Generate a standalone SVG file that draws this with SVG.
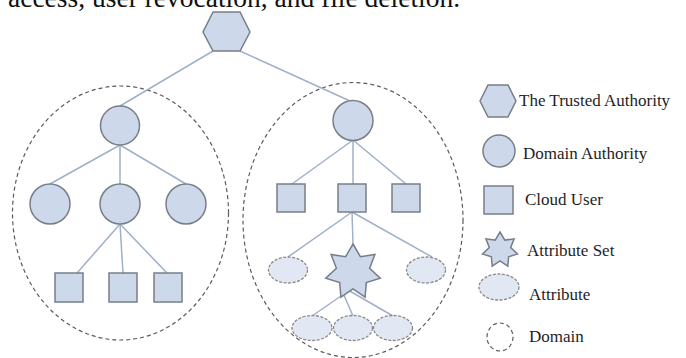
<svg xmlns="http://www.w3.org/2000/svg" width="686" height="358" viewBox="0 0 686 358">
<style>
.node{fill:#cdd8ea;stroke:#787e88;stroke-width:1.5}
.attr{fill:#e2e8f3;stroke:#8a8a8a;stroke-width:1.3;stroke-dasharray:3 1.5}
.dom{fill:none;stroke:#5c5c5c;stroke-width:1.2;stroke-dasharray:4 3}
.edge{stroke:#9fb0c9;stroke-width:1.5;fill:none}
.lbl{font-family:"Liberation Serif","Times New Roman",serif;font-size:17px;fill:#1e1e1e}
</style>
<rect width="686" height="358" fill="#ffffff"/>
<text x="8" y="7" font-family="Liberation Serif, Times New Roman, serif" font-size="27.5" fill="#111">access, user revocation, and file deletion.</text>

<g id="domains">
<ellipse id="domain-left" class="dom" cx="120.5" cy="213" rx="108" ry="127"/>
<ellipse id="domain-right" class="dom" cx="353" cy="220" rx="110" ry="137.5"/>
</g>

<g id="connectors" class="edge">
<line x1="213" y1="51" x2="120" y2="106"/>
<line x1="240" y1="51" x2="350" y2="101"/>
<line x1="120" y1="145" x2="50" y2="184"/>
<line x1="120" y1="145" x2="120" y2="184"/>
<line x1="120" y1="145" x2="186" y2="184"/>
<line x1="120" y1="224" x2="77" y2="273"/>
<line x1="120" y1="224" x2="123" y2="273"/>
<line x1="120" y1="224" x2="167" y2="273"/>
<line x1="353" y1="140" x2="292" y2="184"/>
<line x1="353" y1="140" x2="353" y2="184"/>
<line x1="353" y1="140" x2="406" y2="184"/>
<line x1="352" y1="212" x2="288" y2="257"/>
<line x1="352" y1="212" x2="353" y2="244"/>
<line x1="352" y1="212" x2="432" y2="257"/>
<line x1="341" y1="296" x2="312" y2="316"/>
<line x1="343" y1="293" x2="353" y2="316"/>
<line x1="348" y1="290" x2="393" y2="316"/>
</g>

<g id="ta"><polygon class="node" points="213,12 240,12 250,32 240,51 213,51 203,32"/></g>

<g id="da-left"><circle class="node" cx="120" cy="125.5" r="19.5"/></g>
<g id="da-left-1"><circle class="node" cx="50" cy="204" r="20"/></g>
<g id="da-left-2"><circle class="node" cx="120" cy="204" r="20"/></g>
<g id="da-left-3"><circle class="node" cx="186" cy="204" r="20"/></g>
<g id="cu-left-1"><rect class="node" x="55" y="273" width="28" height="29"/></g>
<g id="cu-left-2"><rect class="node" x="109" y="273" width="28" height="29"/></g>
<g id="cu-left-3"><rect class="node" x="154" y="273" width="28" height="29"/></g>

<g id="da-right"><circle class="node" cx="353" cy="120.5" r="20"/></g>
<g id="cu-right-1"><rect class="node" x="277" y="184" width="28" height="28"/></g>
<g id="cu-right-2"><rect class="node" x="338" y="184" width="28" height="28"/></g>
<g id="cu-right-3"><rect class="node" x="392" y="184" width="28" height="28"/></g>
<g id="attr-1"><ellipse class="attr" cx="288" cy="270" rx="19.5" ry="13"/></g>
<g id="attr-2"><ellipse class="attr" cx="426" cy="270" rx="19.5" ry="13"/></g>
<g id="attrset"><polygon class="node" points="353,244 360.4,256.7 374.9,254.5 369.6,268.2 380.3,278.2 366.3,282.6 365.1,297.2 353,289 340.9,297.2 339.7,282.6 325.7,278.2 336.4,268.2 331.1,254.5 345.6,256.7"/></g>
<g id="attr-3"><ellipse class="attr" cx="312" cy="328" rx="20" ry="12.5"/></g>
<g id="attr-4"><ellipse class="attr" cx="353" cy="328" rx="19.5" ry="12.5"/></g>
<g id="attr-5"><ellipse class="attr" cx="393" cy="328" rx="19.5" ry="12.5"/></g>

<g id="legend">
<g id="legend-ta"><polygon class="node" points="488,85 508,85 516,101 508,117 488,117 480,101"/><text class="lbl" x="519" y="106">The Trusted Authority</text></g>
<g id="legend-da"><circle class="node" cx="499" cy="151" r="16"/><text class="lbl" x="523" y="159">Domain Authority</text></g>
<g id="legend-cu"><rect class="node" x="484" y="186" width="29" height="28"/><text class="lbl" x="525" y="205">Cloud User</text></g>
<g id="legend-as"><polygon class="node" points="500,232 504.8,240.1 514.1,238.8 510.7,247.6 517.5,254 508.6,256.9 507.8,266.2 500,261 492.2,266.2 491.4,256.9 482.5,254 489.3,247.6 485.9,238.8 495.2,240.1"/><text class="lbl" x="527" y="256">Attribute Set</text></g>
<g id="legend-attr"><ellipse class="attr" cx="499" cy="287" rx="20" ry="13"/><text class="lbl" x="529" y="300">Attribute</text></g>
<g id="legend-dom"><ellipse class="dom" cx="500" cy="337" rx="13" ry="14"/><text class="lbl" x="529" y="342">Domain</text></g>
</g>
</svg>
